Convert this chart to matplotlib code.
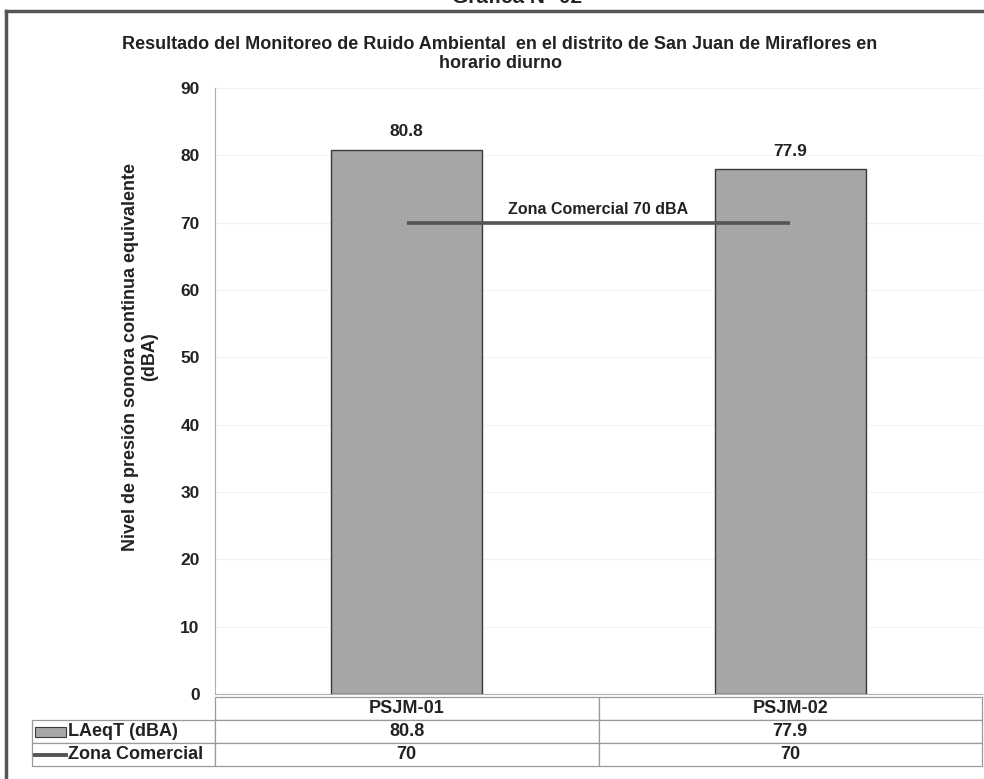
import matplotlib
matplotlib.use("Agg")
import matplotlib.pyplot as plt
from matplotlib.patches import Rectangle
from matplotlib.lines import Line2D

categories = ["PSJM-01", "PSJM-02"]
laeq = [80.8, 77.9]
zona = [70, 70]
row_labels = ["LAeqT (dBA)", "Zona Comercial"]
yticks = [0, 10, 20, 30, 40, 50, 60, 70, 80, 90]
title = "Resultado del Monitoreo de Ruido Ambiental  en el distrito de San Juan de Miraflores en\nhorario diurno"
ylabel = "Nivel de presión sonora continua equivalente\n(dBA)"
line_label = "Zona Comercial 70 dBA"
top_caption = "Gráfica N° 02"

W, H = 984, 779
fig = plt.figure(figsize=(W / 100, H / 100), dpi=100)
fig.patch.set_facecolor("white")

SANS = ["Liberation Sans", "DejaVu Sans"]

def fx(px):
    return px / W

def fy(py):
    return 1 - py / H

# outer border (only left/top visible)
fig.add_artist(Line2D([fx(6), fx(6)], [fy(11), fy(H + 5)], color="#555555", lw=2.5,
                      transform=fig.transFigure))
fig.add_artist(Line2D([fx(6), fx(W + 5)], [fy(11), fy(11)], color="#555555", lw=2.5,
                      transform=fig.transFigure))

# caption at top (cut off in the original)
fig.text(0.525, fy(3), top_caption, ha="center", va="baseline", fontsize=15,
         fontweight="bold", family=SANS, color="#222222")

ax_left, ax_right, ax_top, ax_bot = 215, 982, 88, 694
ax = fig.add_axes([fx(ax_left), fy(ax_bot), (ax_right - ax_left) / W, (ax_bot - ax_top) / H])

x = list(range(len(categories)))
ax.bar(x, laeq, width=0.395, color="#a6a6a6", edgecolor="#3a3a3a", linewidth=1.0, zorder=3)
ax.plot(x, zona, color="#555555", lw=2.6, zorder=4, solid_capstyle="butt")

for xi, v in zip(x, laeq):
    ax.text(xi, v + 1.6, f"{v}", ha="center", va="bottom", fontsize=12.5,
            fontweight="bold", family=SANS, color="#222222")

ax.text(sum(x) / len(x), zona[0] + 0.9, line_label, ha="center", va="bottom",
        fontsize=11.5, fontweight="bold", family=SANS, color="#222222", zorder=5)

ax.set_xlim(-0.5, len(categories) - 0.5)
ax.set_ylim(0, 90)
ax.set_yticks(yticks)
ax.set_yticklabels([str(t) for t in yticks], fontsize=12.5, fontweight="bold",
                   family=SANS, color="#222222")
ax.set_xticks([])
ax.tick_params(axis="y", length=0, pad=11)
for s in ["top", "right"]:
    ax.spines[s].set_visible(False)
ax.spines["left"].set_color("#b0b0b0")
ax.spines["bottom"].set_color("#b0b0b0")
ax.grid(axis="y", color="#f2f2f2", lw=0.8, zorder=0)
ax.set_axisbelow(True)

# title & y-label
fig.text(fx(500), fy(54), title, ha="center", va="center", fontsize=13,
         fontweight="bold", family=SANS, color="#222222", linespacing=1.15)
fig.text(fx(140), fy(357), ylabel, ha="center", va="center", rotation=90,
         fontsize=13, fontweight="bold", family=SANS, color="#222222", linespacing=1.1)

# data table
tab_left, tab_top, tab_bot = 32, 697, 766
axw = ax_right - ax_left
axh = ax_bot - ax_top
bx0 = (tab_left - ax_left) / axw
by0 = (ax_bot - tab_bot) / axh
bw = (ax_right - tab_left) / axw
bh = (tab_bot - tab_top) / axh
cell_text = [[""] + categories,
             [row_labels[0]] + [f"{v}" for v in laeq],
             [row_labels[1]] + [f"{v}" for v in zona]]
first_w = ax_left - tab_left
col_w = (ax_right - ax_left) / len(categories)
tbl = ax.table(cellText=cell_text, cellLoc="center",
               colWidths=[first_w] + [col_w] * len(categories),
               bbox=[bx0, by0, bw, bh])
tbl.auto_set_font_size(False)
sw_x0, sw_x1 = 35, 66
for (r, c), cell in tbl.get_celld().items():
    cell.set_edgecolor("#9a9a9a")
    cell.set_linewidth(0.9)
    cell.get_text().set_fontsize(13)
    cell.get_text().set_fontweight("bold")
    cell.get_text().set_family(SANS)
    cell.get_text().set_color("#222222")
    if r == 0 and c == 0:
        cell.visible_edges = ""
    if c == 0 and r > 0:
        cell.get_text().set_ha("left")
        cell._loc = "left"
        cell.PAD = (sw_x1 + 2 - tab_left) / first_w

# legend swatches in row label cells
row_h = (tab_bot - tab_top) / 3
yc1 = tab_top + row_h * 1.5
yc2 = tab_top + row_h * 2.5
def to_ax(px, py):
    return (px - ax_left) / axw, (ax_bot - py) / axh
p0 = to_ax(sw_x0, yc1 + 5)
p1 = to_ax(sw_x1, yc1 - 5)
ax.add_patch(Rectangle(p0, p1[0] - p0[0], p1[1] - p0[1], transform=ax.transAxes,
                       facecolor="#a6a6a6", edgecolor="#3a3a3a", lw=0.8, clip_on=False))
l0 = to_ax(sw_x0, yc2)
l1 = to_ax(sw_x1, yc2)
ax.add_line(Line2D([l0[0], l1[0]], [l0[1], l1[1]], transform=ax.transAxes,
                   color="#555555", lw=2.8, clip_on=False))

fig.savefig("out.png", dpi=100, facecolor="white")
